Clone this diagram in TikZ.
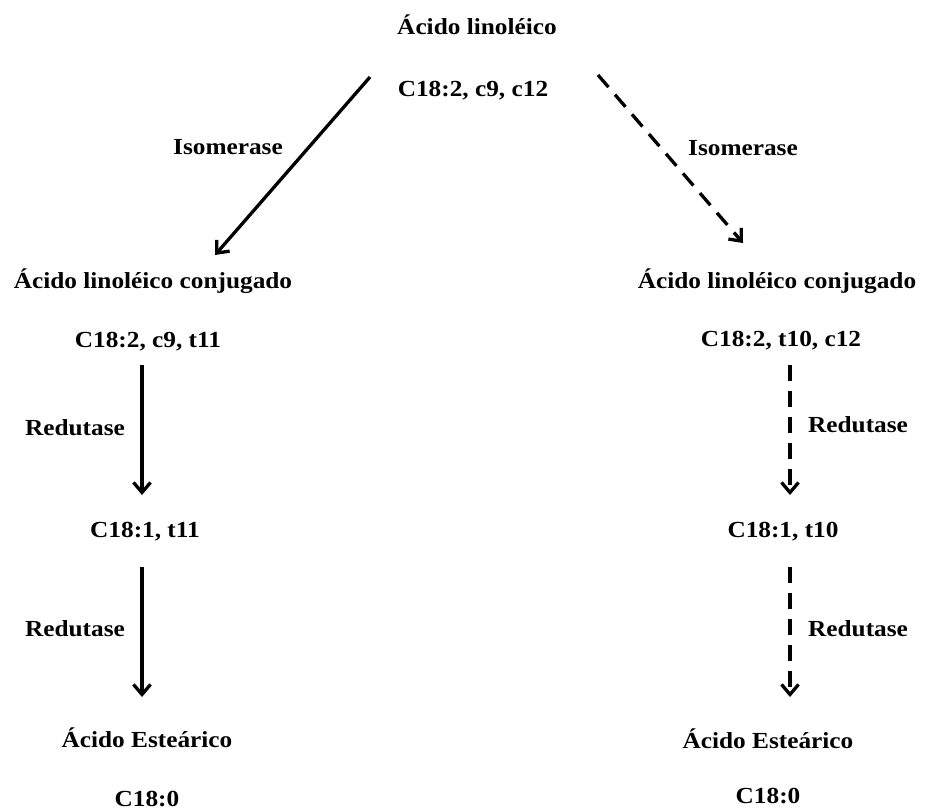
\documentclass[tikz,border=0pt]{standalone}
\usepackage{fontspec}
\setmainfont{Liberation Serif}[FakeStretch=1.1]
\usetikzlibrary{arrows.meta}
\tikzset{
  lbl/.style={anchor=base, inner sep=0pt, font=\fontsize{23}{27}\selectfont\bfseries},
  arr/.style={line width=3.3pt, -{Straight Barb[length=10pt,width=17pt,line width=3.3pt]}},
  darr/.style={arr, dash pattern=on 16pt off 10pt},
}
\begin{document}
\begin{tikzpicture}[x=1pt,y=-1pt]
\useasboundingbox (0,0) rectangle (925,810);
% nodes
\node[lbl] (al) at (477,35) {Ácido linoléico};
\node[lbl] (c12) at (473,97) {C18:2, c9, c12};
\node[lbl] (isoL) at (228,155) {Isomerase};
\node[lbl] (isoR) at (743,156) {Isomerase};
\node[lbl] (claL) at (153,288) {Ácido linoléico conjugado};
\node[lbl] (claR) at (777,288) {Ácido linoléico conjugado};
\node[lbl] (t11) at (148,347) {C18:2, c9, t11};
\node[lbl] (t10c12) at (781,346) {C18:2, t10, c12};
\node[lbl] (redL1) at (75,435) {Redutase};
\node[lbl] (redR1) at (858,432) {Redutase};
\node[lbl] (c181L) at (145,537) {C18:1, t11};
\node[lbl] (c181R) at (783,537) {C18:1, t10};
\node[lbl] (redL2) at (75,636) {Redutase};
\node[lbl] (redR2) at (858,636) {Redutase};
\node[lbl] (estL) at (147,747) {Ácido Esteárico};
\node[lbl] (estR) at (768,748) {Ácido Esteárico};
\node[lbl] (c180L) at (147,806) {C18:0};
\node[lbl] (c180R) at (768,803) {C18:0};
% connector ends
\coordinate (a1s) at (370,77);  \coordinate (a1e) at (215,255);
\coordinate (a2s) at (598,75);  \coordinate (a2e) at (743,243);
\coordinate (a3s) at (142,365); \coordinate (a3e) at (142,495);
\coordinate (a4s) at (142,567); \coordinate (a4e) at (142,697);
\coordinate (a5s) at (790,365); \coordinate (a5e) at (790,495);
\coordinate (a6s) at (790,567); \coordinate (a6e) at (790,697);
% connectors
\draw[arr] (a1s) -- (a1e);
\draw[darr] (a2s) -- (a2e);
\draw[arr] (a3s) -- (a3e);
\draw[arr] (a4s) -- (a4e);
\draw[darr] (a5s) -- (a5e);
\draw[darr] (a6s) -- (a6e);
\end{tikzpicture}
\end{document}
